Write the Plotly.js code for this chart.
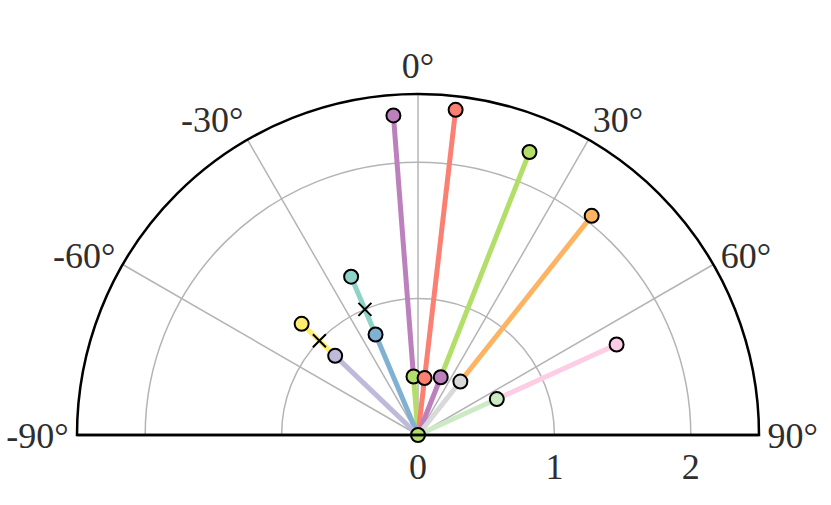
<!DOCTYPE html>
<html>
<head>
<meta charset="utf-8">
<script src="https://cdn.plot.ly/plotly-3.0.1.min.js"></script>
<style>html,body{margin:0;padding:0;background:#fff;}#chart{width:831px;height:505px;}</style>
</head>
<body>
<div id="chart"></div>
<script>
// Each spoke: angle (deg), inner segment 0 -> rInner, outer segment rInner -> rOuter
const spokeTheta  = [-4.4, 6.6, 21.5, 38.4, 65.5, -22.9, -46.3];
const rInner      = [0.43, 0.42, 0.455, 0.50, 0.635, 0.80, 0.84];
const rOuter      = [2.35, 2.40, 2.23, 2.05, 1.60, 1.26, 1.18];
const innerColors = ['#B3DE69', '#FB8072', '#BC80BD', '#D9D9D9', '#CCEBC5', '#80B1D3', '#BEBADA'];
const outerColors = ['#BC80BD', '#FB8072', '#B3DE69', '#FDB462', '#FCCDE5', '#8DD3C7', '#FFED6F'];
// cross markers on the outer segments
const crossTheta = [-22.9, -46.3];
const crossR     = [1.0, 1.0];
// origin marker
const originR = [0];
const originTheta = [0];
const originColor = '#B3DE69';

const angTickVals = [-90, -60, -30, 0, 30, 60, 90];
const angTickText = ['-90°', '-60°', '-30°', '0°', '30°', '60°', '90°'];
const radTickVals = [0, 1, 2];
const radTickText = ['0', '1', '2'];
const radMax = 2.5;

const traces = [];
for (let i = 0; i < spokeTheta.length; i++) {
  traces.push({type: 'scatterpolar', mode: 'lines', r: [0, rInner[i]], theta: [spokeTheta[i], spokeTheta[i]],
    line: {color: innerColors[i], width: 5}, hoverinfo: 'none', showlegend: false});
  traces.push({type: 'scatterpolar', mode: 'lines', r: [rInner[i], rOuter[i]], theta: [spokeTheta[i], spokeTheta[i]],
    line: {color: outerColors[i], width: 5}, hoverinfo: 'none', showlegend: false});
}
traces.push({type: 'scatterpolar', mode: 'markers', r: crossR, theta: crossTheta,
  marker: {symbol: 'x-thin', size: 13, color: '#000', line: {color: '#000', width: 2}}, showlegend: false});
traces.push({type: 'scatterpolar', mode: 'markers', r: rInner, theta: spokeTheta,
  marker: {size: 14, color: innerColors, line: {color: '#000', width: 2}}, showlegend: false});
traces.push({type: 'scatterpolar', mode: 'markers', r: rOuter, theta: spokeTheta,
  marker: {size: 14, color: outerColors, line: {color: '#000', width: 2}}, showlegend: false});
traces.push({type: 'scatterpolar', mode: 'markers', r: originR, theta: originTheta,
  marker: {size: 14, color: originColor, line: {color: '#000', width: 2}}, showlegend: false});

const tickFont = {family: 'Liberation Serif, serif', size: 36, color: '#2e2e2e'};
const layout = {
  width: 831, height: 505,
  margin: {l: 77, r: 72, t: 94, b: 70},
  paper_bgcolor: '#fff',
  font: tickFont,
  showlegend: false,
  polar: {
    domain: {x: [0, 1], y: [0, 1]},
    sector: [0, 180],
    bgcolor: '#fff',
    angularaxis: {
      direction: 'clockwise', rotation: 90,
      tickmode: 'array', tickvals: angTickVals, ticktext: angTickText,
      showline: true, linecolor: '#000', linewidth: 2.5,
      gridcolor: '#b4b4b4', gridwidth: 1.5, ticks: '',
      tickfont: tickFont
    },
    radialaxis: {
      range: [0, radMax], angle: 0, side: 'clockwise',
      tickmode: 'array', tickvals: radTickVals, ticktext: radTickText,
      showline: true, linecolor: '#000', linewidth: 2.5, ticks: '',
      gridcolor: '#b4b4b4', gridwidth: 1.5, tickangle: 0,
      tickfont: tickFont
    }
  },
  shapes: [{type: 'line', xref: 'paper', yref: 'paper', x0: 0, x1: 0.5, y0: 0, y1: 0,
    line: {color: '#000', width: 2.5}, layer: 'above'}]
};
Plotly.newPlot('chart', traces, layout, {displayModeBar: false, staticPlot: true});
</script>
</body>
</html>
